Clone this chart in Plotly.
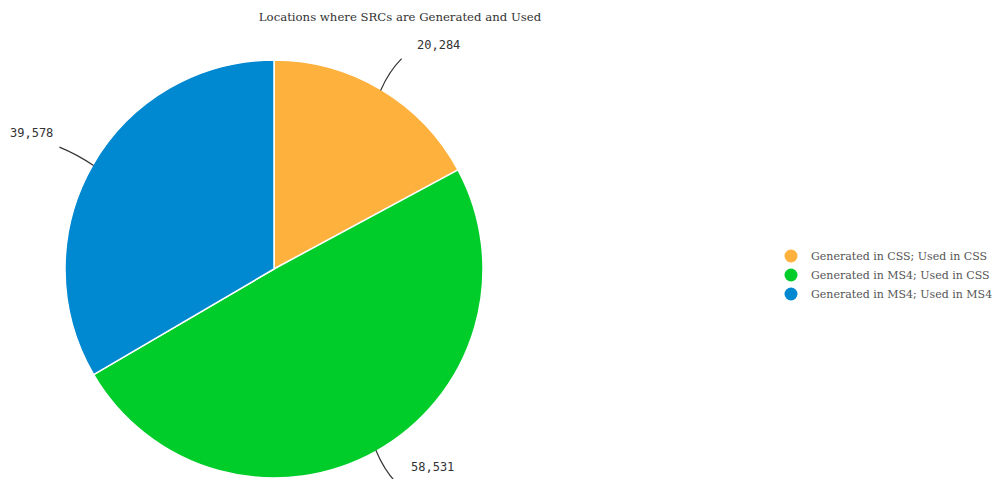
import math
import plotly.graph_objects as go

categories = ["Generated in CSS; Used in CSS", "Generated in MS4; Used in CSS", "Generated in MS4; Used in MS4"]
values = [20284, 58531, 39578]
colors = ["#FFB13D", "#00CC2A", "#0088D1"]

W, H = 1007, 479
OFF = 8  # page body margin: screen px = figure px + OFF

def to_paper(sx, sy):
    """screen pixel -> paper coords"""
    return (sx - OFF) / W, 1 - (sy - OFF) / H

# pie geometry in screen pixels
px_left, px_right, py_top, py_bot = 65, 483, 60, 478
cx = (px_left + px_right) / 2
cy = (py_top + py_bot) / 2
R = 208

fig = go.Figure()
x0d, y1d = to_paper(px_left, py_top)
x1d, y0d = to_paper(px_right, py_bot)
fig.add_trace(go.Pie(
    labels=categories, values=values, sort=False, direction="clockwise", rotation=0,
    marker=dict(colors=colors, line=dict(color="white", width=1.5)),
    textinfo="none", hoverinfo="label+value", showlegend=False,
    domain=dict(x=[x0d, x1d], y=[y0d, y1d]),
))

# legend entries with circle markers
for c, col in zip(categories, colors):
    fig.add_trace(go.Scatter(x=[None], y=[None], mode="markers", name=c,
                             marker=dict(symbol="circle", size=13, color=col)))

total = sum(values)
shapes, annotations = [], []
start = 0.0
for v in values:
    ang = 360 * v / total
    mid = math.radians(start + ang / 2)
    start += ang
    s, c = math.sin(mid), math.cos(mid)
    x0, y0 = cx + R * s, cy - R * c
    x1, y1 = cx + (R + 37) * s, cy - (R + 37) * c
    mx, my = cx + (R + 22) * s, cy - (R + 22) * c
    right = s >= 0
    mx += (-3 if right else 3)
    x1 += (2 if right else -2)
    p0, pm, p1 = to_paper(x0, y0), to_paper(mx, my), to_paper(x1, y1)
    shapes.append(dict(type="path", xref="paper", yref="paper",
                       path=f"M {p0[0]},{p0[1]} Q {pm[0]},{pm[1]} {p1[0]},{p1[1]}",
                       line=dict(color="#333333", width=1.2)))
    lx = x1 + 13 if right else x1 - 4
    ly = y1 - 14 if c > 0 else y1 - 16
    lp = to_paper(lx, ly)
    annotations.append(dict(x=lp[0], y=lp[1], xref="paper", yref="paper",
                            text=f"{v:,}", showarrow=False,
                            xanchor="left" if right else "right", yanchor="middle",
                            font=dict(family="DejaVu Sans Mono", size=12, color="#333333")))

tx, ty = to_paper(400, 17)
lgx, lgy = to_paper(771, 275)
fig.update_layout(
    width=W, height=H,
    margin=dict(l=0, r=0, t=0, b=0),
    paper_bgcolor="white", plot_bgcolor="white",
    title=dict(text="Locations where SRCs are Generated and Used", x=tx, xanchor="center",
               y=ty, yanchor="middle",
               font=dict(family="DejaVu Serif", size=11.7, color="#333333")),
    xaxis=dict(visible=False), yaxis=dict(visible=False),
    legend=dict(x=lgx, y=lgy, xanchor="left", yanchor="middle",
                font=dict(family="DejaVu Serif", size=11, color="#555555"),
                bgcolor="rgba(0,0,0,0)", tracegroupgap=0),
    shapes=shapes, annotations=annotations,
)

fig.write_html("out.html")
